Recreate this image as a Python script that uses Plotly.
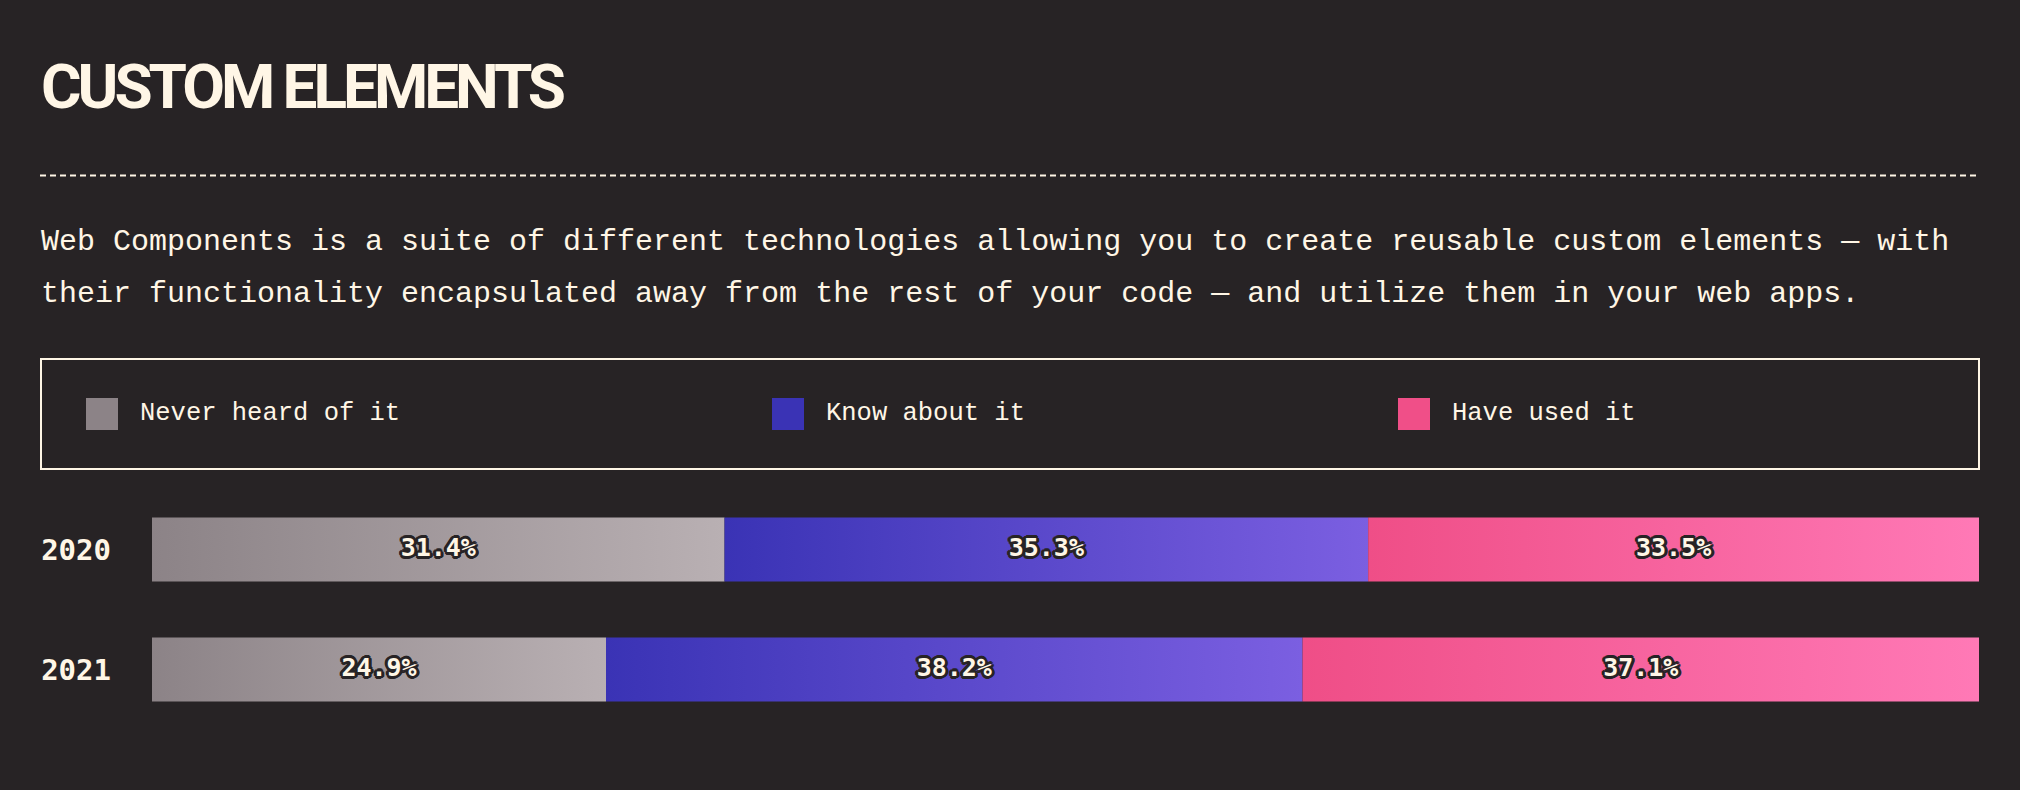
import plotly.graph_objects as go

# ---------------- data ----------------
years = ["2020", "2021"]
series_names = ["Never heard of it", "Know about it", "Have used it"]
never_heard = [31.4, 24.9]
know_about = [35.3, 38.2]
have_used = [33.5, 37.1]

title_text = "CUSTOM ELEMENTS"
desc_lines = [
    "Web Components is a suite of different technologies allowing you to create reusable custom elements — with",
    "their functionality encapsulated away from the rest of your code — and utilize them in your web apps.",
]

# ---------------- style ----------------
W, H = 2020, 790
BG = "#272325"
CREAM = "#fff6e6"
swatch_colors = ["#8c8387", "#3a33b5", "#f04f88"]
gradients = [
    ("#8c8387", "#b9b0b3"),
    ("#3a33b5", "#7b5fe1"),
    ("#ef4e87", "#ff79b6"),
]
MONO = "Liberation Mono, DejaVu Sans Mono, monospace"
BOLDMONO = "DejaVu Sans Mono, Liberation Mono, monospace"
TITLEFONT = "Roboto, DejaVu Sans Condensed, sans-serif"

def py(p):  # pixel-from-top -> paper y
    return 1 - p / H

def px(p):
    return p / W

fig = go.Figure()

series_vals = [never_heard, know_about, have_used]
half = 0.2667  # half bar thickness in row units

outline = ", ".join(
    f"{dx}px {dy}px 0 {BG}"
    for dx, dy in [(-2, -2), (2, -2), (-2, 2), (2, 2), (0, 3), (0, -3), (3, 0), (-3, 0), (-3, -1), (3, 1), (-1, 3), (1, -3)]
)

for yi, yr in enumerate(years):
    start = 0.0
    for si, name in enumerate(series_names):
        v = series_vals[si][yi]
        x0, x1 = start, start + v
        c0, c1 = gradients[si]
        fig.add_trace(go.Scatter(
            x=[x0, x1, x1, x0, x0],
            y=[yi - half, yi - half, yi + half, yi + half, yi - half],
            mode="lines",
            fill="toself",
            fillgradient=dict(type="horizontal", colorscale=[[0, c0], [1, c1]]),
            line=dict(width=0),
            name=name,
            showlegend=False,
            hoverinfo="skip",
        ))
        fig.add_trace(go.Scatter(
            x=[(x0 + x1) / 2], y=[yi],
            mode="text",
            text=[f"{v:.1f}%"],
            textposition="middle center",
            textfont=dict(family=BOLDMONO, size=25, color=CREAM, weight="bold", shadow=outline),
            showlegend=False,
            hoverinfo="skip",
        ))
        start = x1

total = [a + b + c for a, b, c in zip(never_heard, know_about, have_used)]

row0_center = 549.5
row_gap = 120.0
y_top = -row0_center / row_gap
y_bot = (H - row0_center) / row_gap

fig.update_layout(
    width=W, height=H,
    margin=dict(l=0, r=0, t=0, b=0),
    paper_bgcolor=BG, plot_bgcolor=BG,
    xaxis=dict(domain=[px(152), px(1979)], range=[0, max(total)], visible=False, fixedrange=True),
    yaxis=dict(
        range=[y_bot, y_top], tickvals=list(range(len(years))), ticktext=years,
        showgrid=False, zeroline=False, showline=False, ticks="",
        tickfont=dict(family=BOLDMONO, size=29, color=CREAM, weight="bold"),
        ticklabelstandoff=40, fixedrange=True,
    ),
    showlegend=False,
)

# title (condensed look via tight letter spacing)
fig.add_annotation(
    x=px(39), y=py(86), xref="paper", yref="paper", xanchor="left", yanchor="middle",
    text=f"<b><span style='letter-spacing:-4px'>{title_text}</span></b>", showarrow=False,
    font=dict(family=TITLEFONT, size=62, color=CREAM),
)

# dashed separator
fig.add_shape(type="line", xref="paper", yref="paper",
              x0=px(40), x1=px(1979), y0=py(175.5), y1=py(175.5),
              line=dict(color=CREAM, width=2, dash="6px,4px"))

# description
for i, line in enumerate(desc_lines):
    fig.add_annotation(
        x=px(39), y=py(242 + 52 * i), xref="paper", yref="paper", xanchor="left", yanchor="middle",
        text=line, showarrow=False,
        font=dict(family=MONO, size=30, color=CREAM),
    )

# legend box
fig.add_shape(type="rect", xref="paper", yref="paper",
              x0=px(41), x1=px(1979), y0=py(359), y1=py(469),
              line=dict(color=CREAM, width=2), fillcolor="rgba(0,0,0,0)")

legend_swatch_x = [86, 772, 1398]
for name, col, sx in zip(series_names, swatch_colors, legend_swatch_x):
    fig.add_shape(type="rect", xref="paper", yref="paper",
                  x0=px(sx), x1=px(sx + 32), y0=py(398), y1=py(430),
                  line=dict(width=0), fillcolor=col)
    fig.add_annotation(
        x=px(sx + 52), y=py(413), xref="paper", yref="paper", xanchor="left", yanchor="middle",
        text=name, showarrow=False,
        font=dict(family=MONO, size=25.5, color=CREAM),
    )

fig.write_html("out.html")
